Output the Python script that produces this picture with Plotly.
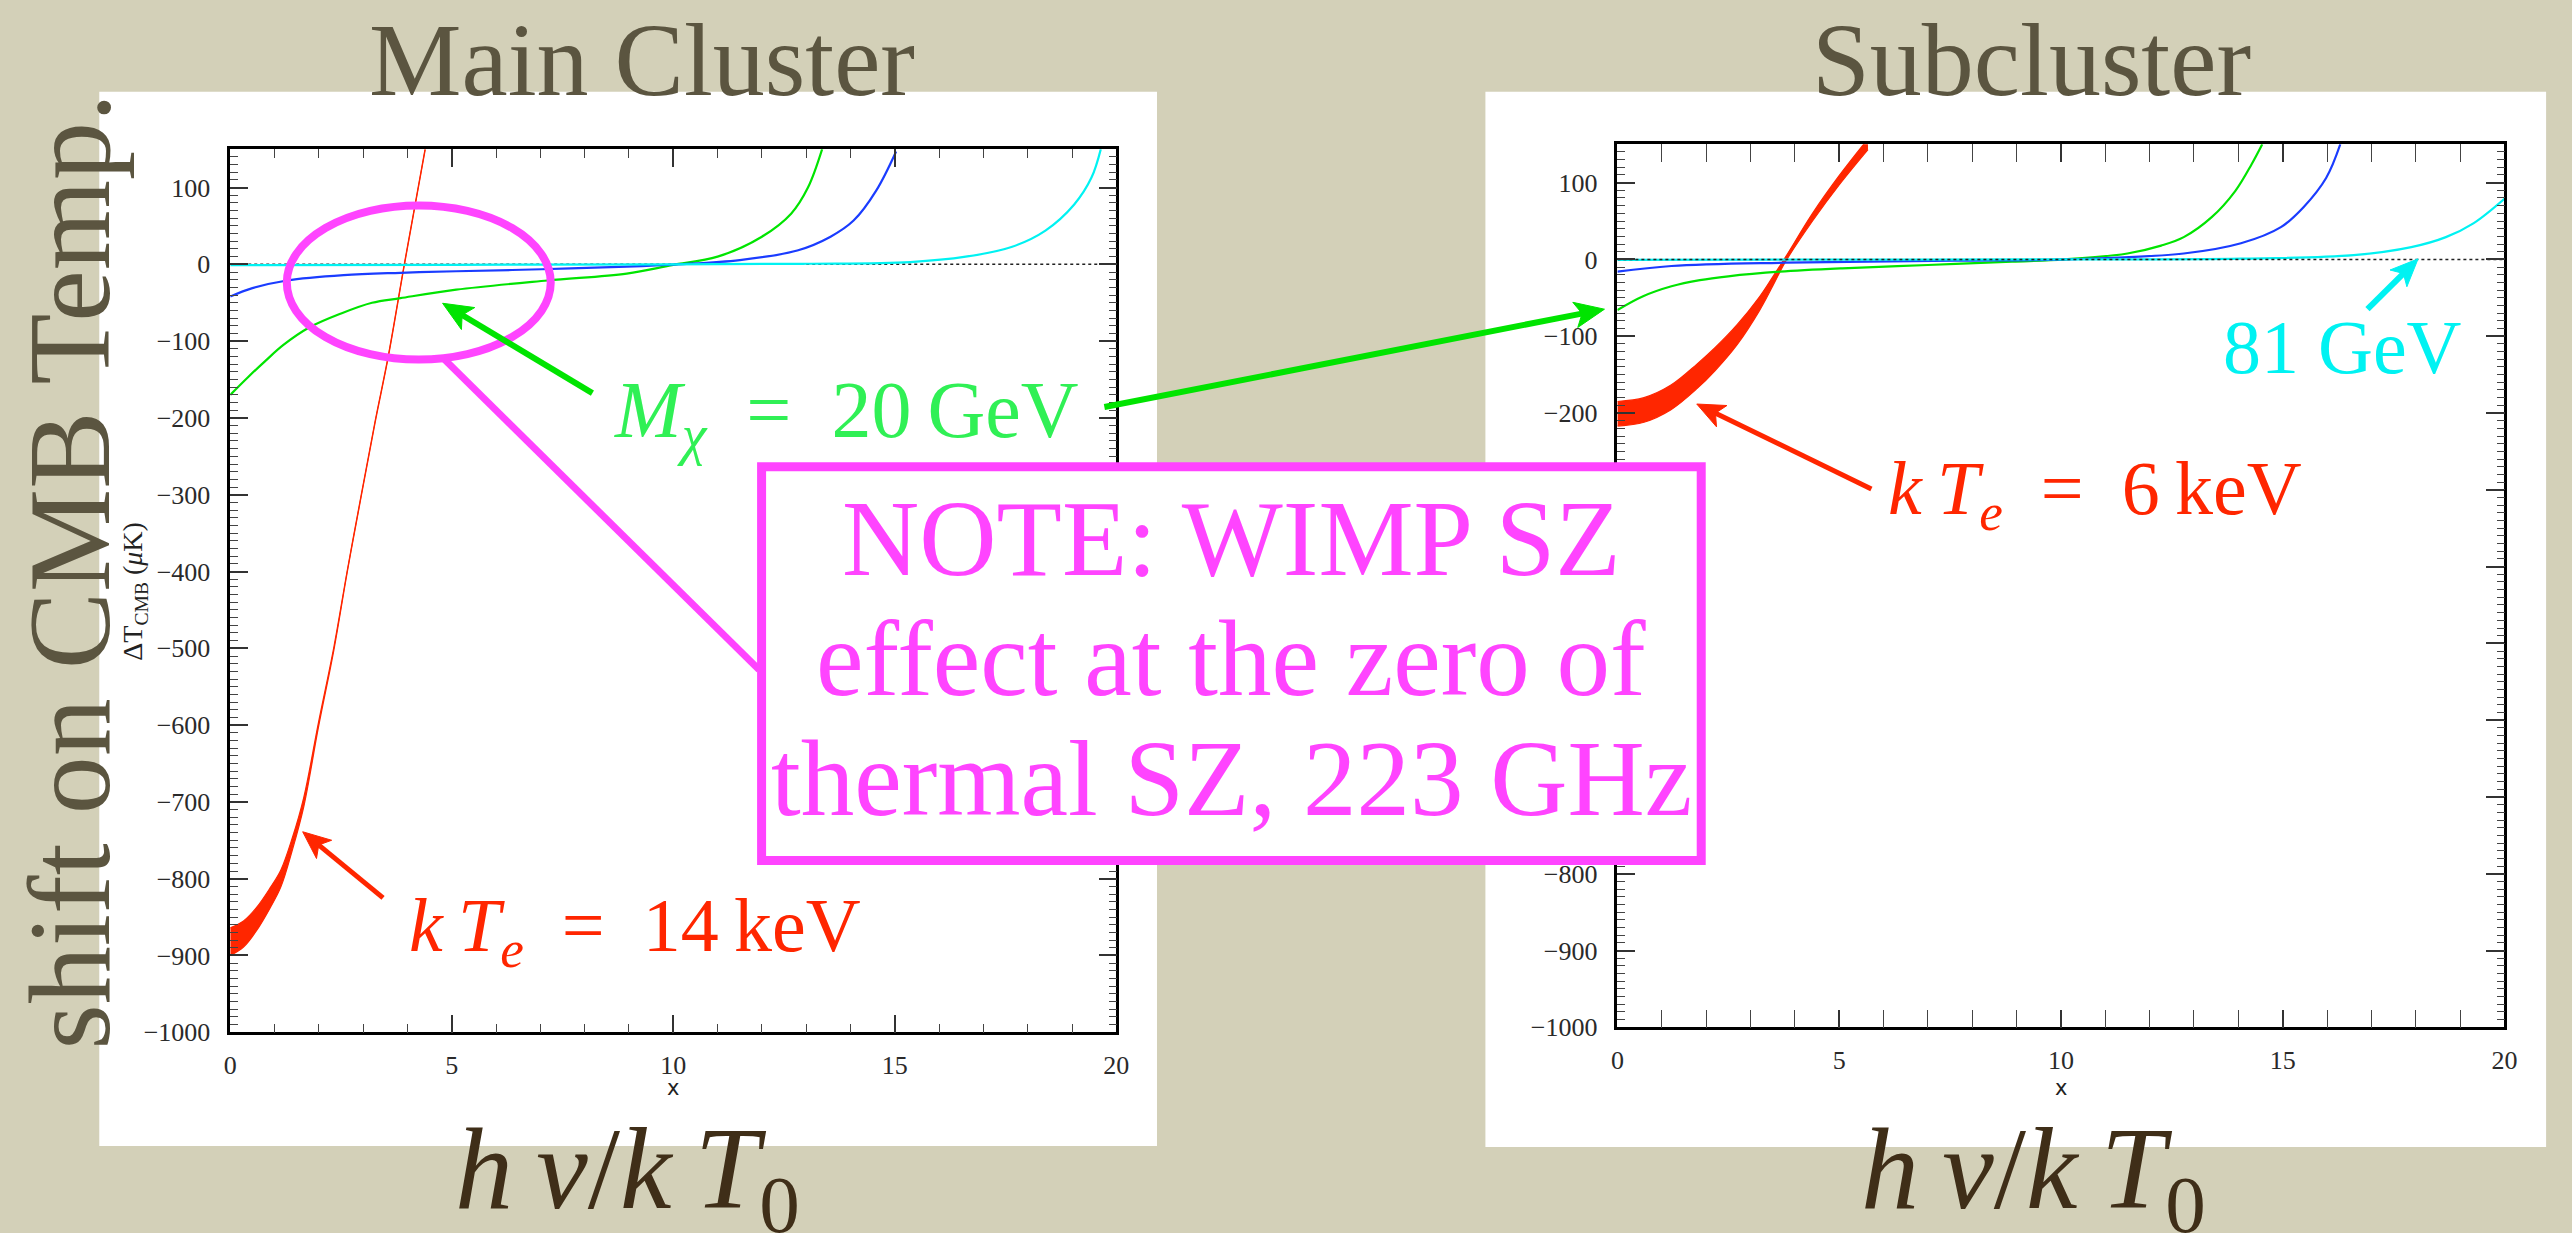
import math
import plotly.graph_objects as go

W, H = 2572, 1233

# ---------------- data (x = h nu / k T0, dT in micro-kelvin) ----------------
# Main cluster: thermal SZ band for kTe = 14 keV (upper / lower edge of band)
main_sz_x = [0, 0.3, 0.6, 0.9, 1.14, 1.4, 1.66, 1.99, 2.34, 2.64, 2.96, 3.27, 3.57, 3.93, 4.40]
main_sz_upper = [-864, -855, -837, -812, -789, -747, -694, -597, -498, -399, -299, -204, -118, 1, 151]
main_sz_lower = [-900, -889, -867, -838, -811, -763, -706, -603, -502, -401, -301, -206, -120, -1, 149]

# Main cluster: WIMP SZ curves
main_m20_x = [0, 0.4, 0.77, 1.2, 1.79, 2.5, 3.2, 3.84, 5.1, 7.16, 8.95, 9.97, 11.0, 12.0, 12.66, 13.04, 13.36]
main_m20_y = [-170, -147, -127, -105, -82, -64, -50, -44, -33, -21, -12, -1, 10, 36, 66, 100, 150]

main_mid_x = [0, 0.5, 1.28, 2.56, 3.84, 5.1, 7.03, 8.95, 10.1, 11.5, 12.8, 13.55, 14.07, 14.58, 15.03]
main_mid_y = [-42, -31, -21, -14, -11, -9, -6.4, -3, 0, 5.6, 18, 36, 57, 96, 147]

main_m81_x = [0, 5, 10, 13, 15.35, 16.6, 17.65, 18.4, 19.05, 19.44, 19.65]
main_m81_y = [-1, -0.6, 0, 0.8, 3, 10, 23, 44, 78, 113, 150]

# Subcluster: thermal SZ band for kTe = 6 keV
sub_sz_x = [0, 0.6, 1.2, 1.8, 2.2, 2.7, 3.2, 3.5, 3.79, 4.4, 5.0, 5.65]
sub_sz_upper = [-185, -180, -164, -136, -115, -85, -49, -23, 3, 60, 109, 157]
sub_sz_lower = [-217, -212, -196, -168, -145, -111, -67, -35, -3, 50, 97, 143]

# Subcluster: WIMP SZ curves
sub_m20_x = [0, 0.58, 1.22, 1.86, 2.5, 3.66, 5.07, 7.0, 8.9, 10.08, 11.5, 12.26, 12.77, 13.4, 13.93, 14.3, 14.54]
sub_m20_y = [-66, -48, -35, -27, -22, -16, -11.6, -7.3, -3, 0, 7.7, 18, 29, 55, 89, 124, 150]

sub_mid_x = [0, 1.22, 3.79, 7.6, 10.1, 12.77, 14.06, 14.96, 15.47, 15.98, 16.3]
sub_mid_y = [-16, -8.6, -4.3, -1.7, 0, 7.7, 21, 42, 68, 106, 150]

sub_m81_x = [0, 5, 10, 14.06, 16.6, 17.9, 18.68, 19.3, 20]
sub_m81_y = [-0.5, -0.3, 0, 1, 5.6, 16, 29, 47, 79]

zero_x = [0, 20]
zero_y = [0, 0]

x_range = [0, 20]
y_range = [-1000, 150]
y_major = [100, 0, -100, -200, -300, -400, -500, -600, -700, -800, -900, -1000]
# subcluster labels that sit under the note box are left out
sub_y_labelled = [100, 0, -100, -200, -800, -900, -1000]

# ---------------- colours ----------------
RED = "#ff2600"
GREEN = "#00e400"
GREEN_TXT = "#30f055"
BLUE = "#1a3cff"
CYAN = "#00f2f2"
MAGENTA = "#ff44ff"
OLIVE = "#5b5540"
BROWN = "#3f2e18"
SERIF = "Liberation Serif"


def px(x):
    return x / W


def py(y):
    return 1 - y / H


fig = go.Figure()


def add_panel(xa, ya, zero_axis, sz_x, sz_up, sz_lo, curves):
    fig.add_trace(go.Scatter(x=zero_x, y=zero_y, mode="lines", xaxis=xa, yaxis=zero_axis,
                             line=dict(color="#222222", width=1.5, dash="dot"),
                             showlegend=False, hoverinfo="skip"))
    fig.add_trace(go.Scatter(x=sz_x, y=sz_lo, mode="lines", xaxis=xa, yaxis=ya,
                             line=dict(color=RED, width=1.2, shape="spline"),
                             showlegend=False, hoverinfo="skip"))
    fig.add_trace(go.Scatter(x=sz_x, y=sz_up, mode="lines", xaxis=xa, yaxis=ya,
                             line=dict(color=RED, width=1.2, shape="spline"),
                             fill="tonexty", fillcolor=RED,
                             showlegend=False, hoverinfo="skip"))
    for cx, cy, col in curves:
        fig.add_trace(go.Scatter(x=cx, y=cy, mode="lines", xaxis=xa, yaxis=ya,
                                 line=dict(color=col, width=2.2, shape="spline"),
                                 showlegend=False, hoverinfo="skip"))


add_panel("x", "y", "y", main_sz_x, main_sz_upper, main_sz_lower,
          [(main_m20_x, main_m20_y, GREEN), (main_mid_x, main_mid_y, BLUE),
           (main_m81_x, main_m81_y, CYAN)])
add_panel("x2", "y2", "y3", sub_sz_x, sub_sz_upper, sub_sz_lower,
          [(sub_m20_x, sub_m20_y, GREEN), (sub_mid_x, sub_mid_y, BLUE),
           (sub_m81_x, sub_m81_y, CYAN)])

tick_font = dict(family=SERIF, size=26, color="#2a2a2a")


def xaxis_style(domain, anchor):
    return dict(domain=domain, anchor=anchor, range=x_range, dtick=5, tick0=0,
                showgrid=False, zeroline=False, showline=True, linecolor="black",
                linewidth=2.5, mirror="allticks", ticks="inside", ticklen=18,
                tickwidth=1.5, tickcolor="#333333", tickfont=tick_font,
                ticklabelstandoff=8,
                minor=dict(dtick=1, ticks="inside", ticklen=9, tickwidth=1.2,
                           tickcolor="#444444", showgrid=False))


def yaxis_style(domain, anchor, labelled):
    return dict(domain=domain, anchor=anchor, range=y_range,
                tickvals=labelled, ticktext=[f"{v}".replace("-", "\u2212") for v in labelled],
                showgrid=False, zeroline=False, showline=True, linecolor="black",
                linewidth=2.5, mirror="allticks", ticks="inside", ticklen=18,
                tickwidth=1.5, tickcolor="#333333", tickfont=tick_font,
                ticklabelstandoff=12,
                minor=dict(dtick=10, tick0=0, ticks="inside", ticklen=8, tickwidth=1.2,
                           tickcolor="#444444", showgrid=False))


def arrow_shapes(hx, hy, tx, ty, color, width, length=30, half=13, notch=7):
    # shaft plus a notched head, built in pixel space then mapped to paper
    dx, dy = hx - tx, hy - ty
    d = math.hypot(dx, dy)
    ux, uy = dx / d, dy / d
    nx, ny = -uy, ux
    bx, by = hx - length * ux, hy - length * uy
    mx, my = hx - (length - notch) * ux, hy - (length - notch) * uy
    pts = [(hx, hy), (bx + half * nx, by + half * ny), (mx, my), (bx - half * nx, by - half * ny)]
    path = "M " + " L ".join(f"{px(a):.6f},{py(b):.6f}" for a, b in pts) + " Z"
    return [
        dict(type="line", xref="paper", yref="paper", x0=px(tx), y0=py(ty), x1=px(mx + ux),
             y1=py(my + uy), line=dict(color=color, width=width), layer="above"),
        dict(type="path", xref="paper", yref="paper", path=path, fillcolor=color,
             line=dict(color=color, width=1), layer="above"),
    ]


shapes = [
    # white slide panels behind each plot
    dict(type="rect", xref="paper", yref="paper", x0=px(93), x1=px(1159), y0=py(1160), y1=py(93),
         fillcolor="white", line=dict(width=0), layer="below"),
    dict(type="rect", xref="paper", yref="paper", x0=px(1490), x1=px(2559), y0=py(1161), y1=py(93),
         fillcolor="white", line=dict(width=0), layer="below"),
    # highlight ring around the WIMP curves near the thermal SZ null
    dict(type="circle", xref="paper", yref="paper", x0=px(282), x1=px(548), y0=py(364), y1=py(208),
         line=dict(color=MAGENTA, width=8), layer="above"),
    # connector from the ring to the note
    dict(type="line", xref="paper", yref="paper", x0=px(441), y0=py(364), x1=px(758), y1=py(678),
         line=dict(color=MAGENTA, width=7), layer="above"),
    # note box
    dict(type="rect", xref="paper", yref="paper", x0=px(760.5), x1=px(1707.5), y0=py(871), y1=py(472.5),
         fillcolor="white", line=dict(color=MAGENTA, width=9), layer="above"),
]
shapes += arrow_shapes(439, 307, 590, 398, GREEN, 6)
shapes += arrow_shapes(1610, 313, 1106, 412, GREEN, 6)
shapes += arrow_shapes(298, 842, 379, 909, RED, 5, length=28, half=12)
shapes += arrow_shapes(1703, 409, 1879, 495, RED, 5, length=28, half=12)
shapes += arrow_shapes(2430, 262, 2379, 313, CYAN, 6, length=28, half=12)


def text(x, y, s, size, color, xanchor="center", yanchor="middle", angle=0, family=SERIF):
    return dict(x=px(x), y=py(y), xref="paper", yref="paper", text=s, showarrow=False,
                font=dict(family=family, size=size, color=color), xanchor=xanchor,
                yanchor=yanchor, textangle=angle)


annotations = [
    text(640, 0, "Main Cluster", 104, OLIVE, yanchor="top"),
    text(2040, 0, "Subcluster", 104, OLIVE, yanchor="top"),
    text(63, 578, "shift on CMB Temp.", 116, OLIVE, angle=-90),
    text(625, 1192, "<i>h\u2009\u03bd</i>/<i>k\u2009T</i><sub>0</sub>", 116, BROWN),
    text(2042, 1192, "<i>h\u2009\u03bd</i>/<i>k\u2009T</i><sub>0</sub>", 116, BROWN),
    # axis titles
    text(671, 1101, "x", 21, "#222222", family="DejaVu Sans"),
    text(2070, 1101, "x", 21, "#222222", family="DejaVu Sans"),
    text(129, 598, "\u0394T<sub>CMB</sub> (<i>\u03bc</i>K)", 28, "#222222", angle=-90),
    # curve labels
    text(610, 421, "<i>M</i><sub><i>\u03c7</i></sub>\u2002=\u200220\u2009GeV", 80, GREEN_TXT, xanchor="left"),
    text(403, 942, "<i>k\u2009T</i><sub><i>e</i></sub>\u2002=\u200214\u2009keV", 76, RED, xanchor="left"),
    text(1894, 500, "<i>k\u2009T</i><sub><i>e</i></sub>\u2002=\u20026\u2009keV", 76, RED, xanchor="left"),
    text(2476, 351, "81 GeV", 76, CYAN, xanchor="right"),
    # note text
    text(1234, 546, "NOTE: WIMP SZ", 107, MAGENTA),
    text(1234, 667, "effect at the zero of", 107, MAGENTA),
    text(1234, 789, "thermal SZ, 223 GHz", 107, MAGENTA),
]

fig.update_layout(
    width=W, height=H,
    margin=dict(l=0, r=0, t=0, b=0),
    paper_bgcolor="#d3d0b8",
    plot_bgcolor="white",
    showlegend=False,
    xaxis=xaxis_style([225 / W, 1118 / W], "y"),
    yaxis=yaxis_style([1 - 1045 / H, 1 - 151 / H], "x", y_major),
    xaxis2=xaxis_style([1623 / W, 2517 / W], "y2"),
    yaxis2=yaxis_style([1 - 1040 / H, 1 - 146 / H], "x2", sub_y_labelled),
    # right-hand major ticks of the subcluster frame
    yaxis3=dict(overlaying="y2", anchor="x2", side="right", range=y_range, tickvals=y_major,
                showgrid=False, zeroline=False, showline=False, ticks="inside", ticklen=18,
                tickwidth=1.5, tickcolor="#333333", showticklabels=False),
    shapes=shapes,
    annotations=annotations,
)

fig.write_html("out.html")
